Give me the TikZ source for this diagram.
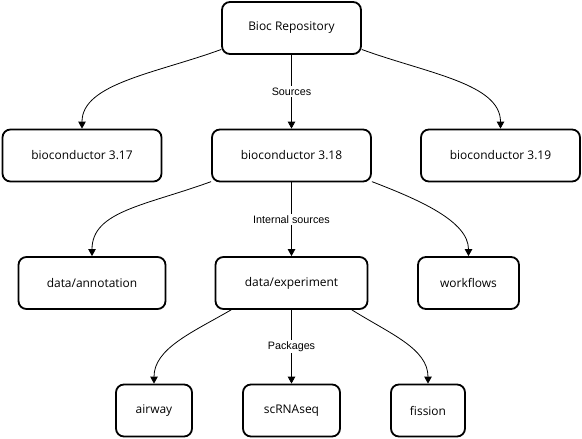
\documentclass[tikz,border=0pt]{standalone}
\usepackage{fontspec}
\setmainfont{Open Sans}
\newfontfamily\labelfont{Liberation Sans}
\usetikzlibrary{shapes.geometric, arrows.meta, positioning}

\begin{document}
\begin{tikzpicture}[node distance=127.5bp,
        box/.style={draw, rectangle, rounded corners=8bp, line width=1.8bp, minimum height=52bp, inner sep=0pt, font=\fontsize{12}{14}\selectfont},
        link/.style={-{Triangle[length=7bp, width=7.5bp]}, line width=0.8bp},
        edgelabel/.style={midway, fill=white, inner sep=1.5bp, font=\labelfont\fontsize{10.8}{12}\selectfont}]
        \useasboundingbox (0,0) rectangle (582bp,-439bp);

        \node[box, minimum width=139bp] at (291.5bp,-28bp) (repo) {Bioc Repository};
        \node[box, minimum width=159bp, below of=repo] (v318) {bioconductor 3.18};
        \node[box, minimum width=159bp, left of=v318, xshift=-82bp] (v317) {bioconductor 3.17};
        \node[box, minimum width=159bp, right of=v318, xshift=81.5bp] (v319) {bioconductor 3.19};
        \node[box, minimum width=152bp, below of=v318] (exper) {data/experiment};
        \node[box, minimum width=147bp, left of=exper, xshift=-72bp] (annot) {data/annotation};
        \node[box, minimum width=101bp, right of=exper, xshift=49.5bp] (wflow) {workflows};
        \node[box, minimum width=97bp, below of=exper] (scrna) {scRNAseq};
        \node[box, minimum width=76bp, left of=scrna, xshift=-10bp] (airway) {airway};
        \node[box, minimum width=74bp, right of=scrna, xshift=9bp] (fission) {fission};

        \draw[link] (repo) -- node[edgelabel] {Sources} (v318);
        \draw[link] (repo.197) .. controls +(200:70bp) and +(90:45bp) .. (v317.north);
        \draw[link] (repo.-17) .. controls +(-20:70bp) and +(90:45bp) .. (v319.north);

        \draw[link] (v318) -- node[edgelabel] {Internal sources} (exper);
        \draw[link] (v318.198) .. controls +(200:70bp) and +(90:45bp) .. (annot.north);
        \draw[link] (v318.-18) .. controls +(-21:50bp) and +(90:35bp) .. (wflow.north);

        \draw[link] (exper) -- node[edgelabel] {Packages} (scrna);
        \draw[link] (exper.204) .. controls +(210:45bp) and +(90:35bp) .. (airway.north);
        \draw[link] (exper.-24) .. controls +(-32:45bp) and +(90:35bp) .. (fission.north);
    \end{tikzpicture}
\end{document}
